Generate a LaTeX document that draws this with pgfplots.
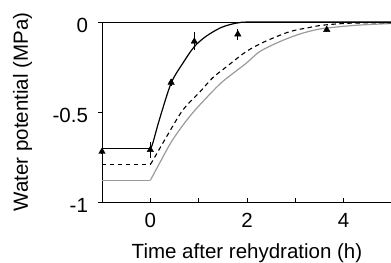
\documentclass[border=0pt]{standalone}
\usepackage{pgfplots}
\pgfplotsset{compat=1.18}
\usepackage{fontspec}
\setmainfont{Liberation Sans}
\definecolor{curvegray}{RGB}{155,155,155}
\begin{document}
\fontsize{20.5bp}{24bp}\selectfont
\begin{tikzpicture}
\begin{axis}[name=ax, scale only axis, width=290bp, height=180bp,
 xmin=-1, xmax=5, ymin=-1, ymax=0,
 axis x line=box, axis y line=left, axis line style={-, line width=0.9bp, black},
 xtick={-1,0,1,2,3,4,5}, xticklabels={,0,,2,,4,},
 ytick={-1,-0.5,0}, yticklabels={-1,-0.5,0},
 xtick pos=bottom, ytick pos=left,
 tick align=inside, major tick length=4bp,
 tick style={black, line width=0.9bp},
 ytick style={xshift=-4bp},
 yticklabel style={xshift=-7bp, yshift=-3.5bp},
 xticklabel style={yshift=-4bp},
 xlabel={Time after rehydration (h)}, ylabel={Water potential (MPa)},
 every axis x label/.style={at={(axis description cs:0.5,-0.287)}, anchor=center},
 every axis y label/.style={at={(axis description cs:-0.2735,0.5)}, rotate=90, anchor=center},
 clip=false]
% grey curve
\addplot[curvegray, line width=1.2bp] coordinates {(-1,-0.88) (0,-0.88)};
\addplot[curvegray, line width=1.2bp, smooth, tension=0.5] coordinates {
(0,-0.88) (0.19,-0.785) (0.46,-0.655) (0.81,-0.526) (1.15,-0.424) (1.5,-0.33) (1.98,-0.23) (2.26,-0.165) (2.67,-0.11) (3.09,-0.067) (3.5,-0.039) (3.92,-0.026) (4.33,-0.017) (5,-0.008)};
% dashed curve
\addplot[black, line width=1.1bp, dash pattern=on 4.5bp off 3.5bp] coordinates {(-1,-0.79) (0,-0.79)};
\addplot[black, line width=1.1bp, dash pattern=on 4.5bp off 3.5bp, smooth, tension=0.5] coordinates {
(0,-0.79) (0.05,-0.77) (0.33,-0.64) (0.67,-0.49) (1.02,-0.39) (1.29,-0.31) (1.57,-0.25) (1.98,-0.165) (2.36,-0.11) (2.88,-0.054) (3.3,-0.03) (3.5,-0.02) (3.8,-0.012) (4.2,-0.006) (5,-0.004)};
% black curve
\addplot[black, line width=1.2bp] coordinates {(-1,-0.705) (0,-0.705)};
\addplot[black, line width=1.2bp, smooth, tension=0.5] coordinates {
(0,-0.705) (0.05,-0.674) (0.19,-0.54) (0.43,-0.34) (0.67,-0.23) (0.91,-0.137) (1.15,-0.08) (1.43,-0.035) (1.64,-0.015) (1.84,-0.004) (2.2,0) (5,0)};
\addplot[only marks, mark=triangle*, mark size=3.7bp, black,
 error bars/.cd, y dir=both, y explicit, error mark=none,
 error bar style={line width=1.1bp}] coordinates {
(-1,-0.72) +- (0,0.015)
(0,-0.71) +- (0,0.045)
(0.43,-0.336) +- (0,0.02)
(0.91,-0.108) +- (0,0.05)
(1.81,-0.068) +- (0,0.03)
(3.65,-0.043) +- (0,0.01)};
\end{axis}
\pgfresetboundingbox
\path[use as bounding box] ([xshift=-102bp,yshift=-61bp]ax.south west) rectangle ([xshift=-1bp,yshift=22bp]ax.north east);
\end{tikzpicture}
\end{document}
